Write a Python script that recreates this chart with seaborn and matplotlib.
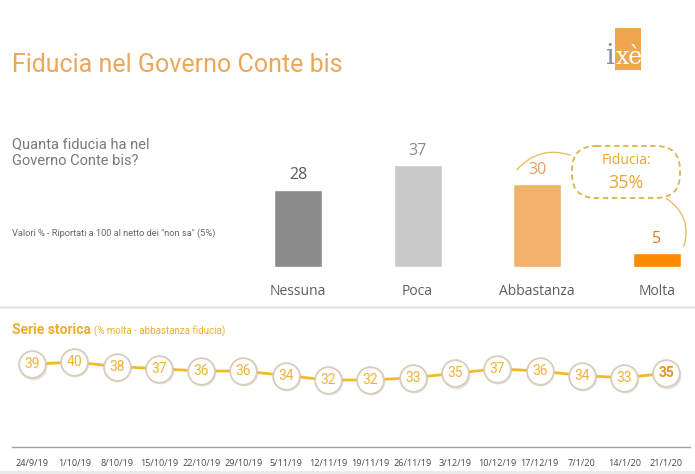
import matplotlib
matplotlib.use("Agg")
import matplotlib.pyplot as plt
import seaborn as sns
import numpy as np
from matplotlib.patches import FancyBboxPatch, Rectangle, FancyArrowPatch

# Dati - distribuzione fiducia
categorie = ["Nessuna", "Poca", "Abbastanza", "Molta"]
valori = [28, 37, 30, 5]
colori_barre = ["#8c8c8c", "#c9c9c9", "#f0b26a", "#ff8a00"]
colori_valori = ["#5a5a5a", "#8a8a8a", "#e3a05a", "#e8771a"]

# Dati - serie storica (% molta + abbastanza)
date = ["24/9/19", "1/10/19", "8/10/19", "15/10/19", "22/10/19", "29/10/19",
        "5/11/19", "12/11/19", "19/11/19", "26/11/19", "3/12/19", "10/12/19",
        "17/12/19", "7/1/20", "14/1/20", "21/1/20"]
serie = [39, 40, 38, 37, 36, 36, 34, 32, 32, 33, 35, 37, 36, 34, 33, 35]

W, H = 695, 474
sns.set_theme(style="white")
plt.rcParams['font.family'] = ['Open Sans', 'DejaVu Sans']
NARROW = ['Liberation Sans Narrow', 'Roboto', 'DejaVu Sans']
ORO = "#f0ae2c"


def px_box(x0, y0, x1, y1):
    return [x0 / W, 1 - y1 / H, (x1 - x0) / W, (y1 - y0) / H]


fig = plt.figure(figsize=(W / 100, H / 100), dpi=100)
fig.patch.set_facecolor("white")

# livello decorativo in coordinate pixel
ax0 = fig.add_axes([0, 0, 1, 1], zorder=5)
ax0.set_xlim(0, W)
ax0.set_ylim(H, 0)
ax0.axis("off")
ax0.patch.set_visible(False)

# Titolo
ax0.text(12, 72, "Fiducia nel Governo Conte bis", fontsize=18, color="#eaa75e",
         family=NARROW, va="baseline")

# Logo
ax0.add_patch(Rectangle((615, 28), 26, 42, color="#eea650", lw=0))
ax0.text(606, 64, "i", fontsize=20, color="#8a8f99", family="DejaVu Serif", va="baseline")
ax0.text(616, 64, "xè", fontsize=17, color="white", family="DejaVu Serif", va="baseline")

# Testi a sinistra
ax0.text(12, 137, "Quanta fiducia ha nel\nGoverno Conte bis?", fontsize=10.5,
         color="#7a7a7a", family=NARROW, va="top", linespacing=1.3)
ax0.text(12, 233, 'Valori % - Riportati a 100 al netto dei "non sa" (5%)', fontsize=6.7,
         color="#666666", family=NARROW, va="center")

# Separatori
ax0.plot([0, W], [307, 307], color="#e8e8e8", lw=2)
ax0.plot([0, W], [472, 472], color="#e8e8e8", lw=2)

# Serie storica header
ax0.text(12, 334, "Serie storica", fontsize=10, weight="bold", color=ORO,
         family=NARROW, va="baseline")
ax0.text(94, 334, "(% molta - abbastanza fiducia)", fontsize=7, color=ORO,
         family=NARROW, va="baseline")

# Callout "Fiducia: 35%"
ax0.add_patch(FancyBboxPatch((572, 146), 108, 52,
                             boxstyle="round,pad=0,rounding_size=24",
                             fc="white", ec="#d9b64a", ls=(0, (3, 2)), lw=1.3))
ax0.text(626, 161, "Fiducia:", fontsize=10, color="#e8a33a", ha="center", va="center")
ax0.text(626, 183, "35%", fontsize=13, color="#e8a33a", ha="center", va="center")
ax0.add_patch(FancyArrowPatch((515, 172), (573, 156), arrowstyle="-",
                              connectionstyle="arc3,rad=-0.35", color="#e3c16a", lw=1))
ax0.add_patch(FancyArrowPatch((664, 197), (683, 249), arrowstyle="-",
                              connectionstyle="arc3,rad=-0.4", color="#e3c16a", lw=1))

# Grafico a barre
ax1 = fig.add_axes(px_box(250, 130, 690, 267))
sns.barplot(x=categorie, y=valori, hue=categorie, palette=colori_barre, width=0.4,
            saturation=1, legend=False, ax=ax1)
ax1.set_xlim((250 - 298) / 119.6, (690 - 298) / 119.6)
ax1.set_ylim(0, (267 - 130) / 2.76)
sns.despine(ax=ax1, left=True, bottom=True)
ax1.set_yticks([])
ax1.set_xlabel("")
ax1.set_ylabel("")
ax1.patch.set_visible(False)
ax1.tick_params(axis="x", length=0, pad=12, labelsize=10, labelcolor="#5e5e5e")
for i, v in enumerate(valori):
    ax1.text(i, v + 2.3, str(v), ha="center", va="bottom", fontsize=11.5,
             color=colori_valori[i])

# Serie storica
ax2 = fig.add_axes(px_box(12, 340, 690, 447))
x = np.arange(len(date))
sns.lineplot(x=x, y=serie, color="#f2b92b", lw=2, ax=ax2)
ax2.scatter(x + 0.02, np.array(serie) - 0.6, s=400, color="#bdb3a3", alpha=0.35,
            lw=0, zorder=2)
sns.scatterplot(x=x, y=serie, s=370, color="white", edgecolor="#d8cdb8",
                linewidth=1.3, ax=ax2, zorder=3)
for i, v in enumerate(serie):
    last = i == len(serie) - 1
    ax2.text(i, v, str(v), ha="center", va="center", fontsize=10,
             color="#e8961c" if last else "#f0b33a",
             weight="bold" if last else "normal", family=NARROW, zorder=4)
ax2.set_xlim((12 - 32) / 42.3, (690 - 32) / 42.3)
ax2.set_ylim(2.2, 49.8)
ax2.set_xticks(x)
ax2.set_xticklabels(date)
ax2.set_yticks([])
ax2.tick_params(axis="x", length=0, pad=9, labelsize=6.6, labelcolor="#4a4a4a")
sns.despine(ax=ax2, left=True)
ax2.spines["bottom"].set_color("#a0a0a0")
ax2.spines["bottom"].set_linewidth(1)
ax2.patch.set_visible(False)

fig.savefig("out.png", dpi=100)
